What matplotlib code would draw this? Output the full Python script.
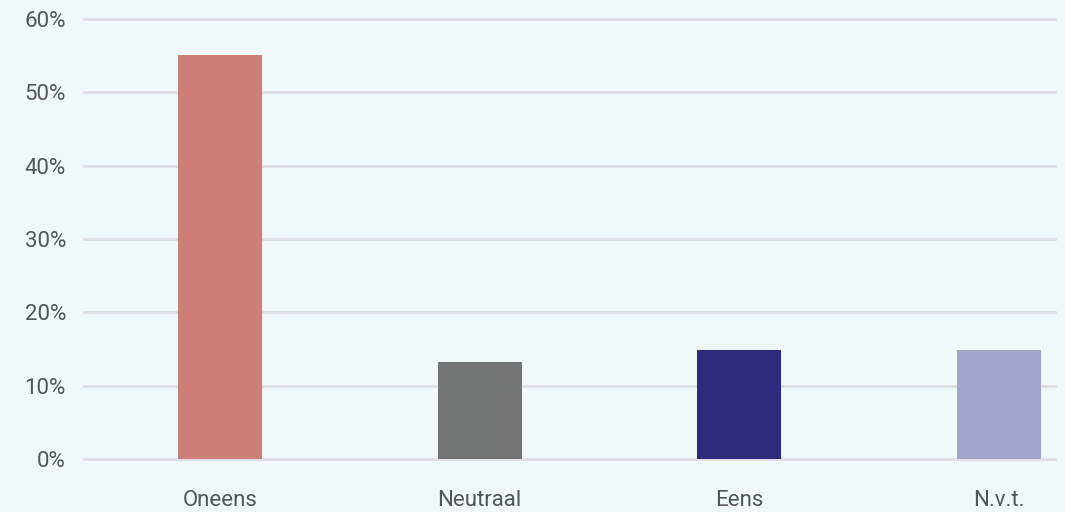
import matplotlib
matplotlib.use("Agg")
import matplotlib.pyplot as plt
from matplotlib.ticker import PercentFormatter

categories = ["Oneens", "Neutraal", "Eens", "N.v.t."]
shares = [0.551, 0.132, 0.149, 0.149]
bar_colors = ["#CD7E76", "#727473", "#2F2A7B", "#A3A4C9"]
y_ticks = [0.0, 0.1, 0.2, 0.3, 0.4, 0.5, 0.6]

bg = "#F1F8FA"
plt.rcParams["font.family"] = ["Roboto", "DejaVu Sans"]

fig = plt.figure(figsize=(10.65, 5.12), dpi=100, facecolor=bg)
ax = fig.add_axes([0.0789, 0.1035, 0.9117, 0.8594], facecolor=bg)

x = range(len(categories))
ax.bar(x, shares, width=0.323, color=bar_colors, zorder=3)

ax.set_ylim(0, 0.6)
ax.set_xlim(-0.524, 3.216)
ax.set_yticks(y_ticks)
ax.yaxis.set_major_formatter(PercentFormatter(1.0, decimals=0))
ax.set_xticks(list(x))
ax.set_xticklabels(categories)
ax.grid(axis="y", color="#DEDEE4", linewidth=2, zorder=0)
for gl in ax.get_ygridlines():
    gl.set_clip_on(False)
ax.tick_params(axis="both", length=0, labelsize=16, labelcolor="#555555")
ax.tick_params(axis="y", pad=13)
ax.tick_params(axis="x", pad=22)
for s in ax.spines.values():
    s.set_visible(False)

fig.savefig("out.png", facecolor=bg)
